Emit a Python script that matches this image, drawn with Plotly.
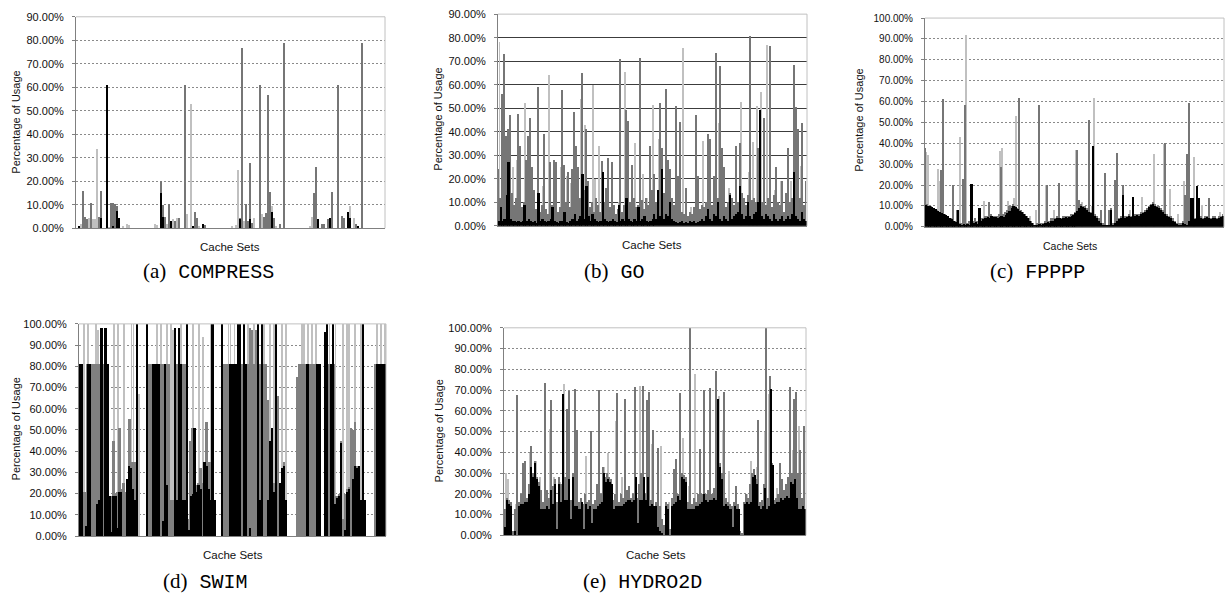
import plotly.graph_objects as go

W, H = 1225, 607

# ---------------- (a) COMPRESS : sparse (cache-set group, %) ----------------
N_A = 155
a_black_idx = [1, 12, 15, 18, 20, 21, 42, 43, 47, 58, 63, 82, 87, 98, 121, 127, 136, 137, 141]
a_black_val = [1, 4.5, 61, 1, 7.5, 4.5, 15, 5, 3, 1, 2, 4, 4, 7, 4, 4.5, 7, 4.5, 1]
a_gray_idx = [3, 4, 5, 7, 11, 12, 17, 18, 19, 20, 42, 43, 44, 46, 49, 51, 54, 59, 60, 64,
              82, 83, 85, 86, 87, 88, 92, 94, 95, 96, 97, 99, 102, 104,
              119, 120, 123, 124, 126, 128, 131, 133, 134, 140, 143]
a_gray_val = [16, 5, 4, 11, 5, 16, 11, 11, 10.5, 9.5, 20, 10, 5, 10.5, 3, 4.5, 61, 7, 4.5, 1.5,
              4.5, 77, 10.5, 3, 28, 2.5, 61, 5, 6.5, 57, 15.5, 4.5, 2, 79,
              15, 26, 2, 2, 4, 15.5, 61, 5.5, 4.5, 2, 79]
a_light_idx = [2, 4, 6, 8, 9, 10, 16, 23, 25, 26, 39, 40, 45, 48, 50, 55, 57, 61, 63,
               78, 80, 81, 84, 89, 93, 96, 98, 100, 117, 118, 137, 139]
a_light_val = [2, 3, 4.5, 4, 4, 34, 0.5, 1, 2, 1.5, 2, 1.5, 2, 4, 4.5, 6, 53, 1, 2,
               1, 1.5, 25, 3, 4.5, 6, 11, 9.5, 1, 1, 5, 9.5, 4.5]

# ---------------- (b) GO : 155 cache-set groups ----------------
b_black = [2, 8, 2, 3, 13, 27, 3, 2, 2, 1.5,
           2, 1.5, 2, 9, 2, 3, 2, 1.5, 2, 1,
           14, 2, 3, 2, 1.5, 2, 3, 8, 2, 1.5,
           1, 2, 2, 6, 1.5, 1, 2, 3, 5, 2,
           3, 4, 22, 3, 17, 4, 2, 5, 3, 2,
           1.5, 2, 23, 3, 2, 1.5, 2, 3, 2, 1.5,
           9, 2, 3, 2, 12, 3, 2, 1.5, 3, 2,
           8, 2, 3, 4, 2, 1.5, 2, 3, 5, 3,
           15, 4, 24, 3, 5, 4, 10, 3, 2, 1.5,
           1, 1.5, 2, 1, 1.5, 1, 2, 1.5, 2, 1,
           1.5, 2, 3, 2, 4, 7, 3, 2, 5, 4,
           10, 3, 2, 4, 3, 2, 13, 3, 4, 5,
           6, 17, 5, 3, 4, 10, 4, 3, 5, 6,
           10, 49, 4, 3, 5, 4, 3, 2, 5, 3,
           2, 3, 4, 2, 3, 4, 3, 5, 23, 4,
           3, 2, 6, 3, 2]
b_gray = [24, 12, 56, 73, 38, 41, 47, 14, 9, 12,
          47.5, 34, 8, 10, 28, 38, 46, 25, 15, 7,
          59, 6, 9, 39, 7, 5, 27, 9, 28, 27,
          6, 8, 57.5, 26, 10, 23, 8, 24, 48.5, 34,
          25, 12, 65, 15, 41, 19, 8, 10, 6, 12,
          9, 6, 27.5, 10, 16, 29, 8, 27, 9, 5,
          7, 71, 6, 9, 49, 44.5, 10, 26, 12, 8,
          9, 71.5, 11, 7, 12, 9, 34, 15, 22, 10,
          12, 52, 33, 14, 58, 28, 24, 12, 9, 51,
          21, 44, 6, 5, 16, 4, 6, 5, 8, 47,
          21, 7, 9, 8, 10, 39, 37, 9, 21, 73.5,
          12, 68, 33, 25, 8, 10, 14, 12, 9, 34,
          10, 35, 14, 12, 9, 13, 80.5, 11, 12, 10,
          33, 12, 10, 46, 9, 12, 76.5, 8, 13, 25,
          10, 9, 19, 6, 14, 33, 10, 12, 68.5, 50.5,
          41, 12, 43.5, 9, 19]
b_light_idx = [0, 7, 9, 13, 22, 25, 31, 34, 36, 41, 43, 47, 48, 50, 60, 63, 68, 72, 74, 77,
               80, 92, 96, 102, 110, 115, 121, 125, 127, 129, 131, 134, 138, 141, 146, 151]
b_light_val = [78, 25, 28, 52, 17, 64, 25, 21, 18, 54, 43, 60, 20, 34, 10, 65.5, 35, 22, 12, 51.5,
               37, 75.5, 8, 36, 43.5, 16, 52.5, 23, 35.5, 51, 57, 77, 15, 19, 19, 25.5]

# ---------------- (c) FPPPP : 150 cache-set groups ----------------
c_black = [10.5, 10, 10, 9.5, 9, 8.5, 7.5, 7, 6.5, 6,
           5.5, 5, 4, 3.5, 3, 2.5, 8, 1.5, 1, 1.5,
           1, 1.5, 1, 20.5, 2, 2.5, 1.5, 9, 3, 3.5,
           4, 4.5, 4, 5, 4.5, 4.5, 4, 4.5, 5, 4.5,
           5.5, 6.5, 7.5, 9, 10, 9.5, 8.5, 7.5, 7, 6,
           5, 4, 3, 2, 1, 0.5, 1, 1.5, 1, 1.5,
           2, 2.5, 2, 3, 3, 3.5, 4, 4, 3.5, 4,
           4.5, 4, 4.5, 5, 5.5, 6.5, 7.5, 9, 10, 9.5,
           9, 8, 7, 6.5, 38.5, 5, 4, 3, 2, 1,
           1, 0.5, 1, 8, 1, 2, 3, 3.5, 4, 15,
           4, 4.5, 5, 4.5, 14.5, 5, 5.5, 5, 6, 6.5,
           7, 8, 9.5, 10.5, 11, 10, 9.5, 9, 8, 7,
           6, 5, 4.5, 4, 3, 2.5, 1.5, 1, 1, 2,
           1.5, 1, 3, 14, 14, 3.5, 19.5, 14, 4, 3.5,
           4, 4.5, 4, 3.5, 4, 4, 3.5, 4, 4.5, 5]
c_gray = [37.5, 11, 10, 10, 9, 8, 8, 7, 27, 61,
          6, 5, 4, 4, 20, 3, 8, 2, 2, 23,
          58.5, 2, 3, 20.5, 3, 4, 3, 9, 4, 4,
          5, 5, 12, 6, 5, 5, 5, 6, 28.5, 6,
          7, 8, 10, 10, 11, 10, 9, 61.5, 8, 7,
          6, 5, 4, 3, 2, 1, 2, 58.5, 2, 2,
          3, 20, 3, 4, 4, 4, 5, 21, 4, 5,
          5, 5, 5, 6, 6, 7, 37, 13, 11, 10,
          10, 9, 51, 7, 8, 6, 5, 4, 8, 2,
          26, 1, 8, 9, 2, 22.5, 35.5, 4, 5, 20,
          5, 5, 6, 5, 6, 6, 6, 6, 7, 7,
          8, 9, 10, 11, 12, 11, 10, 10, 9, 8,
          40, 6, 5, 5, 4, 3, 2, 2, 2, 3,
          15, 35, 59.5, 4, 5, 4, 5, 5, 5, 4,
          5, 5, 14, 4, 5, 5, 4, 5, 5, 6]
c_light_idx = [0, 1, 6, 7, 17, 20, 29, 37, 38, 41, 44, 45, 52, 55, 60, 64, 75, 78, 83, 84,
               102, 108, 110, 114, 119, 122, 126, 129, 134, 138, 147]
c_light_val = [36, 34.5, 27.5, 22, 43, 92, 12.5, 36.5, 37.5, 12.5, 14, 53, 5, 8, 20, 8, 37, 12, 10, 61.5,
               8, 14.5, 8, 35, 39.5, 18, 6, 22, 33.5, 10.5, 7]

# ---------------- (d) SWIM : 155 cache-set groups ----------------
d_black = [81, 81, 0, 5, 81, 81, 0, 0, 0, 15,
           17, 98, 0, 98, 81, 19, 2, 19, 19, 4,
           21, 21, 0, 0, 27, 33, 32, 22, 17, 100,
           0, 0, 0, 0, 100, 0, 0, 81, 81, 81,
           81, 0, 7, 81, 24, 0, 0, 0, 98, 17,
           98, 81, 17, 17, 100, 3, 19, 20, 51, 21,
           24, 22, 0, 35, 33, 22, 17, 100, 17, 0,
           0, 0, 100, 0, 0, 0, 81, 81, 81, 81,
           100, 100, 0, 100, 81, 0, 4, 0, 0, 0,
           100, 17, 100, 0, 0, 17, 45, 51, 21, 100,
           0, 25, 32, 33, 17, 0, 0, 0, 0, 0,
           0, 0, 0, 0, 0, 81, 0, 0, 0, 0,
           81, 81, 0, 0, 96, 100, 0, 81, 100, 15,
           18, 19, 44, 0, 3, 21, 22, 0, 27, 33,
           32, 33, 17, 100, 17, 0, 0, 0, 0, 0,
           81, 81, 81, 81, 81]
d_gray = [81, 81, 21, 21, 81, 81, 81, 81, 81, 81,
          81, 81, 81, 81, 81, 19, 19, 45, 20, 21,
          51, 22, 25, 21, 25, 55, 35, 35, 35, 81,
          0, 0, 0, 0, 81, 81, 81, 81, 81, 81,
          81, 81, 81, 81, 81, 81, 17, 17, 81, 81,
          81, 81, 81, 81, 81, 8, 45, 51, 51, 24,
          25, 32, 25, 35, 54, 35, 35, 81, 17, 0,
          0, 0, 75, 81, 81, 81, 81, 81, 81, 81,
          81, 81, 81, 81, 81, 81, 98, 97, 81, 97,
          81, 81, 81, 81, 81, 64, 22, 20, 25, 25,
          66, 25, 32, 35, 17, 0, 0, 0, 0, 0,
          75, 81, 81, 81, 81, 81, 81, 81, 81, 81,
          81, 81, 0, 0, 81, 81, 81, 81, 81, 19,
          19, 20, 45, 8, 20, 22, 23, 51, 50, 54,
          33, 20, 17, 81, 17, 0, 0, 0, 0, 81,
          81, 81, 81, 81, 81]
d_light_idx = [2, 4, 8, 9, 17, 19, 22, 26, 27, 30, 39, 41, 44, 46, 47, 51, 54, 57, 60, 62,
               66, 75, 76, 78, 81, 85, 88, 93, 96, 98, 102, 104, 110, 112, 113, 115, 117, 119,
               126, 129, 133, 135, 136, 139, 142, 150, 152, 154]
d_light_val = [100, 100, 100, 97, 100, 100, 100, 100, 100, 67, 100, 100, 100, 100, 97, 100, 100, 100, 100, 94,
               100, 100, 100, 100, 100, 100, 100, 100, 100, 100, 100, 100, 75, 100, 100, 100, 100, 100,
               100, 100, 100, 100, 100, 100, 100, 100, 100, 100]

# ---------------- (e) HYDRO2D : 150 cache-set groups ----------------
e_black = [4, 17, 15, 14, 0, 2, 0, 14, 15, 15,
           16, 16, 20, 33, 28, 35, 27, 24, 13, 13,
           13, 14, 13, 22, 15, 25, 3, 25, 16, 68,
           17, 17, 27, 8, 28, 14, 14, 13, 16, 3,
           15, 13, 14, 6, 13, 13, 14, 15, 16, 30,
           26, 27, 26, 25, 13, 14, 14, 14, 14, 15,
           16, 17, 17, 16, 17, 28, 6, 17, 17, 28,
           17, 28, 14, 15, 14, 14, 4, 2, 1, 0,
           14, 13, 0, 14, 15, 16, 19, 17, 28, 27,
           26, 13, 13, 13, 13, 14, 14, 15, 16, 20,
           17, 16, 17, 17, 18, 17, 66, 33, 27, 14,
           15, 14, 13, 4, 14, 13, 13, 0, 0, 15,
           16, 15, 16, 28, 29, 25, 14, 13, 14, 23,
           13, 14, 70.5, 34, 15, 16, 16, 18, 17, 18,
           19, 18, 26, 25, 27, 18, 13, 13, 14, 13]
e_gray = [13, 18, 17, 16, 2, 13, 67.5, 16, 20, 35,
          36, 18, 25, 43, 30, 36, 28, 26, 22, 16,
          73.5, 22, 18, 65.5, 24, 27, 16, 28, 25, 38,
          28, 61, 69.5, 17, 30, 70.5, 51, 16, 18, 15,
          20, 16, 17, 50.5, 15, 17, 25, 70, 20, 33,
          28, 30, 28, 27, 17, 20, 68.5, 16, 20, 18,
          66, 22, 24, 18, 20, 71.5, 18, 25, 30, 72,
          20, 65.5, 69, 17, 51, 16, 42, 14, 8, 5,
          16, 15, 3, 18, 32, 37, 20, 68.5, 30, 29,
          28, 16, 100, 15, 18, 16, 20, 41.5, 20, 70,
          20, 22, 71, 20, 23, 79.5, 30, 35, 30, 69,
          18, 16, 15, 14, 16, 24, 15, 2, 1, 16,
          20, 18, 25, 30, 32, 27, 55.5, 16, 17, 25,
          100, 18, 77, 35, 17, 18, 20, 35, 27, 22,
          25, 28, 71.5, 30, 66, 69, 30, 41, 18, 53]
e_light_idx = [0, 1, 5, 12, 15, 17, 22, 24, 27, 29, 40, 49, 51, 55, 58, 67, 73, 77, 81, 88,
               91, 94, 106, 108, 111, 120, 122, 125, 129, 131, 135, 143, 146, 148]
e_light_val = [30, 27, 15, 40, 36, 28, 51.5, 28, 26, 73, 38.5, 33, 40, 55, 28, 72, 44, 43, 16, 47,
               24, 78, 67, 51, 31, 20, 36, 33, 50, 68, 23, 41, 53, 17]

captions = [("(a)", "COMPRESS"), ("(b)", "GO"), ("(c)", "FPPPP"), ("(d)", "SWIM"), ("(e)", "HYDRO2D")]
y_title = "Percentage of Usage"
x_title = "Cache Sets"

# ---------------- layout geometry (pixels) ----------------
panels = [
    dict(n=N_A, x0=76, x1=385, yt=11, yb=226.7, ymax=90, grid="2px,2px", gc="#8a8a8a", fs=11,
         ytx=16, yty=119, ctx=230, cty=246, cap=(208, 271), mode="sparse",
         data=((a_light_idx, a_light_val), (a_gray_idx, a_gray_val), (a_black_idx, a_black_val))),
    dict(n=len(b_black), x0=498, x1=807, yt=8.3, yb=224.3, ymax=90, grid="solid", gc="#3c3c3c", fs=11,
         ytx=438, yty=116, ctx=652, cty=244, cap=(614, 271), mode="dense",
         data=((b_light_idx, b_light_val), b_gray, b_black)),
    dict(n=len(c_black), x0=925, x1=1224, yt=12.3, yb=225.3, ymax=100, grid="2px,2px", gc="#8a8a8a", fs=10,
         ytx=859, yty=117, ctx=1070, cty=244.5, cap=(1037, 271), mode="dense",
         data=((c_light_idx, c_light_val), c_gray, c_black)),
    dict(n=len(d_black), x0=79, x1=386, yt=324.3, yb=540.7, ymax=100, grid="2px,2px", gc="#8a8a8a", fs=11,
         ytx=16, yty=432, ctx=233, cty=560, cap=(205, 587), mode="swim",
         data=((d_light_idx, d_light_val), d_gray, d_black)),
    dict(n=len(e_black), x0=504, x1=806, yt=328.3, yb=540, ymax=100, grid="2px,2px", gc="#8a8a8a", fs=11,
         ytx=439, yty=434, ctx=656, cty=560, cap=(642, 587), mode="dense",
         data=((e_light_idx, e_light_val), e_gray, e_black)),
]

BLACK, GRAY, LIGHT = "#000000", "#767676", "#c0c0c0"
fig = go.Figure()
layout = dict(width=W, height=H, margin=dict(l=0, r=0, t=0, b=0), paper_bgcolor="white",
              plot_bgcolor="white", barmode="overlay", bargap=0, showlegend=False)
annotations, shapes = [], []


def px(x):
    return x / W


def py(y):
    return 1 - y / H


def bar(x, y, xa, ya, color, width, offset=None):
    kw = dict(x=x, y=y, xaxis=xa, yaxis=ya, width=width,
              marker=dict(color=color, line=dict(width=0)), hoverinfo="skip")
    if offset is not None:
        kw["offset"] = offset
    return go.Bar(**kw)


for i, p in enumerate(panels):
    k = "" if i == 0 else str(i + 1)
    xa, ya = "x" + k, "y" + k
    (li, lv), g, b = p["data"]
    if p["mode"] == "sparse":
        gi, gv = g
        bi, bv = b
        fig.add_trace(bar(li, lv, xa, ya, LIGHT, 0.55))
        fig.add_trace(bar(gi, gv, xa, ya, GRAY, 0.55))
        fig.add_trace(bar(bi, bv, xa, ya, BLACK, 0.55))
    elif p["mode"] == "swim":
        xs = list(range(len(b)))
        fig.add_trace(bar(li, lv, xa, ya, LIGHT, 0.45))
        fig.add_trace(bar(xs, g, xa, ya, "#808080", 1.0))
        fig.add_trace(bar(xs, b, xa, ya, BLACK, 0.9))
    else:
        xs = list(range(len(b)))
        fig.add_trace(bar(li, lv, xa, ya, LIGHT, 0.5, 0.0))
        fig.add_trace(bar(xs, g, xa, ya, GRAY, 0.5, -0.5))
        fig.add_trace(bar(xs, b, xa, ya, BLACK, 1.0))

    layout["xaxis" + k] = dict(domain=[px(p["x0"]), px(p["x1"])], range=[-0.5, p["n"] - 0.5], anchor=ya,
                               showticklabels=False, ticks="", showgrid=False, zeroline=False,
                               showline=True, linecolor="#808080", linewidth=1, fixedrange=True)
    layout["yaxis" + k] = dict(domain=[py(p["yb"]), py(p["yt"])], range=[0, p["ymax"]], anchor=xa,
                               dtick=10, tick0=0, tickformat=".2f", ticksuffix="%",
                               showgrid=True, gridcolor=p["gc"], gridwidth=1, griddash=p["grid"],
                               zeroline=False, showline=True, linecolor="#808080", linewidth=1,
                               ticks="outside", ticklen=3, tickcolor="#808080",
                               ticklabelstandoff=6,
                               tickfont=dict(family="Liberation Sans, Arial", size=p["fs"], color="#111"),
                               fixedrange=True)
    # light top/right border of the plot area
    shapes.append(dict(type="line", xref=xa + " domain", yref=ya + " domain", x0=0, x1=1, y0=1, y1=1,
                       line=dict(color="#c0c0c0", width=1)))
    shapes.append(dict(type="line", xref=xa + " domain", yref=ya + " domain", x0=1, x1=1, y0=0, y1=1,
                       line=dict(color="#c0c0c0", width=1)))
    annotations.append(dict(text=y_title, x=px(p["ytx"]), y=py(p["yty"]), xref="paper", yref="paper",
                            textangle=-90, showarrow=False, xanchor="center", yanchor="middle",
                            font=dict(family="Liberation Sans, Arial", size=11, color="#111")))
    annotations.append(dict(text=x_title, x=px(p["ctx"]), y=py(p["cty"]), xref="paper", yref="paper",
                            showarrow=False, xanchor="center", yanchor="middle",
                            font=dict(family="Liberation Sans, Arial", size=p["fs"] + 0.5, color="#111")))
    lab, name = captions[i]
    cx, cy = p["cap"]
    annotations.append(dict(
        text=f"<span style=\"font-family:'Liberation Serif';font-size:21px\">{lab}</span> "
             f"<span style=\"font-family:'Liberation Mono'\">{name}</span>",
        x=px(cx), y=py(cy), xref="paper", yref="paper", showarrow=False,
        xanchor="center", yanchor="middle",
        font=dict(family="Liberation Mono", size=20, color="#000")))

layout["annotations"] = annotations
layout["shapes"] = shapes
fig.update_layout(**layout)
fig.write_html("out.html")
